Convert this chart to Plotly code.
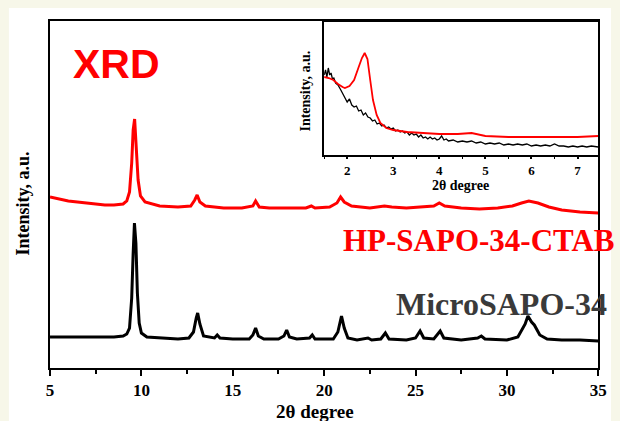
import plotly.graph_objects as go

W, H = 620, 421

# ---------------- main pattern data (2θ, intensity a.u.) ----------------
micro_x = [5.0, 6.0, 7.0, 8.0, 8.5, 9.0, 9.2, 9.35, 9.47, 9.55, 9.62, 9.7, 9.78, 9.88, 10.0, 10.3, 11.0, 12.0,
           12.6, 12.85, 13.0, 13.08, 13.2, 13.4, 14.0, 14.15, 14.3, 15.0, 15.9, 16.1, 16.25, 16.4, 16.7, 17.5,
           17.8, 17.95, 18.1, 18.5, 19.2, 19.35, 19.5, 20.5, 20.75, 20.95, 21.1, 21.3, 21.8, 22.4, 22.6, 23.1,
           23.35, 23.55, 24.5, 25.0, 25.25, 25.45, 26.0, 26.35, 26.55, 27.5, 28.4, 28.6, 28.8, 30.0, 30.6,
           31.0, 31.15, 31.35, 31.5, 31.8, 32.2, 33.0, 34.0, 35.0]
micro_y = [31, 31, 31, 31, 31, 32, 34, 40, 70, 115, 145, 125, 75, 45, 35, 31, 30, 29,
           30, 36, 50, 55, 44, 32, 30, 33, 30, 29, 29, 33, 40, 32, 29, 29,
           32, 38, 31, 29, 30, 33, 29, 29, 36, 52, 40, 30, 28, 30, 28, 29,
           35, 29, 28, 30, 37, 30, 29, 37, 30, 28, 30, 32, 29, 28, 31,
           44, 52, 46, 43, 33, 29, 28, 28, 27]

hp_x = [5.0, 5.5, 6.0, 6.5, 7.0, 7.5, 8.0, 8.5, 9.0, 9.2, 9.35, 9.47, 9.55, 9.63, 9.72, 9.82, 9.95, 10.2,
        11.0, 12.0, 12.7, 12.92, 13.05, 13.2, 13.5, 14.5, 15.5, 16.1, 16.25, 16.45, 17.0, 18.0, 19.0, 19.3,
        19.5, 20.3, 20.7, 20.9, 21.1, 21.5, 22.5, 23.3, 23.7, 24.5, 25.5, 26.0, 26.3, 26.6, 27.5, 28.5,
        29.5, 30.3, 30.8, 31.2, 31.7, 32.3, 33.0, 34.0, 35.0]
hp_y = [171, 169, 167, 166, 165, 164, 163, 163, 164, 167, 176, 205, 238, 249, 222, 188, 172, 166,
        162, 161, 162, 168, 173, 166, 162, 160, 160, 162, 167, 161, 160, 160, 160, 162,
        160, 161, 165, 171, 166, 162, 160, 162, 161, 160, 161, 162, 165, 162, 160, 159,
        160, 162, 165, 167, 165, 161, 158, 156, 155]

# ---------------- inset (low angle) data ----------------
in_hp_x = [1.5, 1.6, 1.7, 1.8, 1.9, 1.95, 2.05, 2.15, 2.25, 2.32, 2.38, 2.44, 2.5, 2.56, 2.64, 2.72, 2.85,
           3.0, 3.3, 3.6, 4.0, 4.4, 4.7, 5.0, 5.5, 6.0, 6.5, 7.0, 7.45]
in_hp_y = [78, 77, 75, 71, 68, 67, 69, 75, 88, 97, 102, 96, 75, 55, 40, 32, 27,
           25, 23, 22, 21, 21, 22, 19, 18, 18, 18, 18, 19]

in_micro_x = [1.5, 1.53, 1.56, 1.59, 1.62, 1.65, 1.68, 1.71, 1.75, 1.8, 1.85, 1.9, 1.95, 2.0, 2.05, 2.1, 2.15,
              2.2, 2.25, 2.3, 2.35, 2.4, 2.45, 2.5, 2.55, 2.6, 2.65, 2.7, 2.75, 2.8, 2.85, 2.9, 2.95, 3.0,
              3.05, 3.1, 3.15, 3.2, 3.25, 3.3, 3.35, 3.4, 3.45, 3.5, 3.55, 3.6, 3.65, 3.7, 3.75, 3.8, 3.85,
              3.9, 3.95, 4.0, 4.05, 4.1, 4.15, 4.2, 4.3, 4.4, 4.5, 4.6, 4.7, 4.8, 4.9, 5.0, 5.1, 5.2, 5.3,
              5.4, 5.5, 5.6, 5.7, 5.8, 5.9, 6.0, 6.1, 6.2, 6.3, 6.4, 6.5, 6.6, 6.7, 6.8, 6.9, 7.0, 7.1,
              7.2, 7.3, 7.45]
in_micro_y = [80, 85, 78, 87, 80, 82, 76, 77, 72, 70, 66, 62, 58, 53, 56, 50, 48,
              49, 44, 45, 40, 42, 38, 37, 34, 35, 31, 32, 29, 30, 27, 28, 26, 27,
              24, 25, 23, 24, 22, 23, 20, 22, 20, 21, 18, 20, 17, 18, 16, 18, 16,
              17, 15, 16, 19, 15, 16, 14, 15, 13, 14, 13, 14, 12, 13, 11, 12, 11, 12,
              10, 11, 10, 11, 10, 11, 9, 10, 9, 10, 9, 11, 9, 9, 8, 9, 8, 9,
              8, 9, 8]

main_ticks = [5, 10, 15, 20, 25, 30, 35]
inset_ticks = [2, 3, 4, 5, 6, 7]

SERIF = "Liberation Serif, Times New Roman, serif"

fig = go.Figure()
fig.add_trace(go.Scatter(x=micro_x, y=micro_y, mode="lines", line=dict(color="#000000", width=3),
                         xaxis="x", yaxis="y", showlegend=False, hoverinfo="skip"))
fig.add_trace(go.Scatter(x=hp_x, y=hp_y, mode="lines", line=dict(color="#ff0000", width=3),
                         xaxis="x", yaxis="y", showlegend=False, hoverinfo="skip"))
fig.add_trace(go.Scatter(x=in_micro_x, y=in_micro_y, mode="lines", line=dict(color="#000000", width=1.3),
                         xaxis="x2", yaxis="y2", showlegend=False, hoverinfo="skip"))
fig.add_trace(go.Scatter(x=in_hp_x, y=in_hp_y, mode="lines", line=dict(color="#ff0000", width=1.8),
                         xaxis="x2", yaxis="y2", showlegend=False, hoverinfo="skip"))

mx0, mx1 = 47 / W, 607 / W
my0, my1 = 1 - 368 / H, 1 - 21 / H
ix0, ix1 = 327 / W, 607 / W
iy0, iy1 = 1 - 155 / H, 1 - 22 / H

fig.update_layout(
    width=W, height=H,
    margin=dict(l=0, r=0, t=0, b=0),
    paper_bgcolor="#f7f7e9",
    plot_bgcolor="white",
    xaxis=dict(domain=[mx0, mx1], range=[5, 35], tickvals=main_ticks, ticks="outside", ticklen=6, tickwidth=2,
               tickcolor="black", showline=True, linecolor="black", linewidth=2, mirror=True,
               showgrid=False, zeroline=False,
               minor=dict(dtick=2.5, tick0=5, ticks="outside", ticklen=4, tickwidth=2, tickcolor="black"),
               tickfont=dict(family=SERIF, size=17, color="black", weight="bold"), anchor="y"),
    yaxis=dict(domain=[my0, my1], range=[0, 347], showticklabels=False, ticks="", showline=True,
               linecolor="black", linewidth=2, mirror=True, showgrid=False, zeroline=False, anchor="x"),
    xaxis2=dict(domain=[ix0, ix1], range=[1.5, 7.45], tickvals=inset_ticks, ticks="outside", ticklen=2,
                tickwidth=1.5, tickcolor="black", showline=True, linecolor="black", linewidth=2, mirror=True,
                showgrid=False, zeroline=False,
                minor=dict(dtick=0.5, tick0=1.5, ticks="outside", ticklen=2, tickwidth=1, tickcolor="black"),
                tickfont=dict(family=SERIF, size=13, color="black", weight="bold"), anchor="y2"),
    yaxis2=dict(domain=[iy0, iy1], range=[0, 133], showticklabels=False, ticks="", showline=True,
                linecolor="black", linewidth=2, mirror=True, showgrid=False, zeroline=False, anchor="x2"),
)

# white page area (cream margin at top and left)
fig.add_shape(type="rect", xref="paper", yref="paper", x0=5 / W, x1=1, y0=0, y1=1 - 8 / H,
              fillcolor="white", line=dict(width=0), layer="below")

ann = [
    dict(text="XRD", x=115 / W, y=1 - 64 / H, font=dict(family="Liberation Sans, Arial", size=41,
                                                         color="#ff0000", weight="bold")),
    dict(text="HP-SAPO-34-CTAB", x=485 / W, y=1 - 240 / H, font=dict(family=SERIF, size=31,
                                                                    color="#ff0000", weight="bold")),
    dict(text="MicroSAPO-34", x=508 / W, y=1 - 304 / H, font=dict(family=SERIF, size=32,
                                                                 color="#3a3a3a", weight="bold")),
    dict(text="2θ degree", x=318 / W, y=1 - 411 / H, font=dict(family=SERIF, size=19, color="black",
                                                               weight="bold")),
    dict(text="Intensity, a.u.", x=19 / W, y=1 - 204 / H, textangle=-90,
         font=dict(family=SERIF, size=18, color="black", weight="bold")),
    dict(text="2θ degree", x=466 / W, y=1 - 185 / H, font=dict(family=SERIF, size=14, color="black",
                                                               weight="bold")),
    dict(text="Intensity, a.u.", x=307 / W, y=1 - 91 / H, textangle=-90,
         font=dict(family=SERIF, size=14, color="black", weight="bold")),
]
for a in ann:
    a.update(xref="paper", yref="paper", showarrow=False, xanchor="center", yanchor="middle")
    fig.add_annotation(**a)

fig.write_html("out.html")
